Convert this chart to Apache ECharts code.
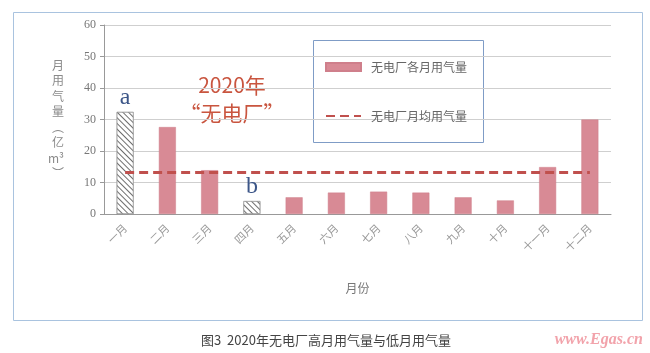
<!DOCTYPE html>
<html>
<head>
<meta charset="utf-8">
<script src="https://cdn.jsdelivr.net/npm/echarts@6/dist/echarts.min.js"></script>
<style>
html, body { margin: 0; padding: 0; background: #fff; }
#main { width: 650px; height: 353px; }
</style>
</head>
<body>
<div id="main"></div>
<script>
// 月份
var months = ['一月', '二月', '三月', '四月', '五月', '六月', '七月', '八月', '九月', '十月', '十一月', '十二月'];
// 无电厂各月用气量（亿m³）
var monthlyGas = [32.4, 27.6, 13.9, 4.1, 5.3, 6.8, 7.1, 6.8, 5.3, 4.3, 14.9, 30.0];
// 无电厂月均用气量
var avgGas = [13.2, 13.2, 13.2, 13.2, 13.2, 13.2, 13.2, 13.2, 13.2, 13.2, 13.2, 13.2];
// 高月/低月标注
var marks = ['a', '', '', 'b', '', '', '', '', '', '', '', ''];
var hatched = [0, 3];
var yTicks = [0, 10, 20, 30, 40, 50, 60];

var cjk = '"Noto Sans CJK SC", sans-serif';
var serif = '"Liberation Serif", "Noto Sans CJK SC", serif';

var barData = [];
for (var i = 0; i < monthlyGas.length; i++) {
	var item = { value: monthlyGas[i] };
	if (hatched.indexOf(i) >= 0) {
		item.itemStyle = {
			color: '#fff',
			borderColor: '#9a9a9a',
			borderWidth: 0.6,
			decal: {
				symbol: 'rect',
				symbolSize: 1,
				color: '#6e6e6e',
				dashArrayX: [1, 0],
				dashArrayY: [1, 2.2],
				rotation: Math.PI / 4
			}
		};
	}
	barData.push(item);
}

var myChart = echarts.init(document.getElementById('main'));
var option = {
	animation: false,
	backgroundColor: '#fff',
	grid: { left: 104, right: 39, top: 25, bottom: 139 },
	legend: {
		orient: 'vertical',
		left: 320,
		top: 56,
		itemGap: 37,
		itemWidth: 35,
		itemHeight: 8,
		textStyle: { color: '#666', fontFamily: cjk, fontSize: 12, padding: [0, 0, 0, 5] },
		data: [
			{ name: '无电厂各月用气量', icon: 'rect' },
			{ name: '无电厂月均用气量', itemStyle: { opacity: 0 } }
		]
	},
	xAxis: {
		type: 'category',
		data: months,
		name: '月份',
		nameLocation: 'middle',
		nameGap: 68,
		nameTextStyle: { color: '#777', fontFamily: cjk, fontSize: 12 },
		axisLine: { lineStyle: { color: '#999' } },
		axisTick: { lineStyle: { color: '#999' }, length: 5 },
		axisLabel: { rotate: 45, color: '#999', fontFamily: cjk, fontSize: 11, margin: 12 }
	},
	yAxis: {
		type: 'value',
		min: 0,
		max: 60,
		interval: 10,
		name: '月\n用\n气\n量\n︵\n亿\nm³\n︶',
		nameLocation: 'middle',
		nameRotate: 0,
		nameGap: 40,
		nameTextStyle: { color: '#8a8a8a', fontFamily: cjk, fontSize: 12, lineHeight: 15.5, padding: [10, 0, 0, 0] },
		axisLine: { show: true, lineStyle: { color: '#999' } },
		axisTick: { show: true, lineStyle: { color: '#999' }, length: 4 },
		axisLabel: {
			color: '#777', fontFamily: serif, fontSize: 12, margin: 8,
			formatter: function (v) { return yTicks.indexOf(v) >= 0 ? String(v) : ''; }
		},
		splitLine: { lineStyle: { color: '#cfcfcf' } }
	},
	series: [
		{
			name: '无电厂各月用气量',
			type: 'bar',
			barWidth: 17,
			itemStyle: { color: '#d88a95', borderColor: '#cf7f8b', borderWidth: 0.5 },
			label: {
				show: true,
				position: 'top',
				distance: 2,
				color: '#3c5688',
				fontFamily: serif,
				fontSize: 24,
				formatter: function (p) { return marks[p.dataIndex]; }
			},
			data: barData
		},
		{
			name: '无电厂月均用气量',
			type: 'line',
			symbol: 'none',
			lineStyle: { color: '#c0504d', width: 3, type: [9, 5] },
			itemStyle: { color: '#c0504d' },
			data: avgGas,
			z: 5
		}
	],
	graphic: [
		{
			type: 'rect', left: 11, top: 10, z: -1,
			shape: { width: 629, height: 308 },
			style: { fill: null, stroke: '#a9c3df', lineWidth: 1 }
		},
		{
			type: 'rect', left: 311, top: 38,
			shape: { width: 170, height: 102 },
			style: { fill: null, stroke: '#7f9cc6', lineWidth: 1 }
		},
		{
			type: 'text', x: 232, y: 85,
			style: { text: '2020年', fill: '#c9553f', font: '21px ' + cjk, textAlign: 'center', textVerticalAlign: 'middle' }
		},
		{
			type: 'text', x: 232, y: 113,
			style: { text: '“无电厂”', fill: '#c9553f', font: '21px ' + cjk, textAlign: 'center', textVerticalAlign: 'middle' }
		},
		{
			type: 'text', x: 326, y: 340,
			style: { text: '图3  2020年无电厂高月用气量与低月用气量', fill: '#444', font: '13px ' + cjk, textAlign: 'center', textVerticalAlign: 'middle' }
		},
		{
			type: 'text', x: 643, y: 340,
			style: { text: 'www.Egas.cn', fill: '#f2a3ab', font: 'italic bold 16px "Liberation Serif", serif', textAlign: 'right', textVerticalAlign: 'middle' }
		}
	]
};
myChart.setOption(option);
</script>
</body>
</html>
